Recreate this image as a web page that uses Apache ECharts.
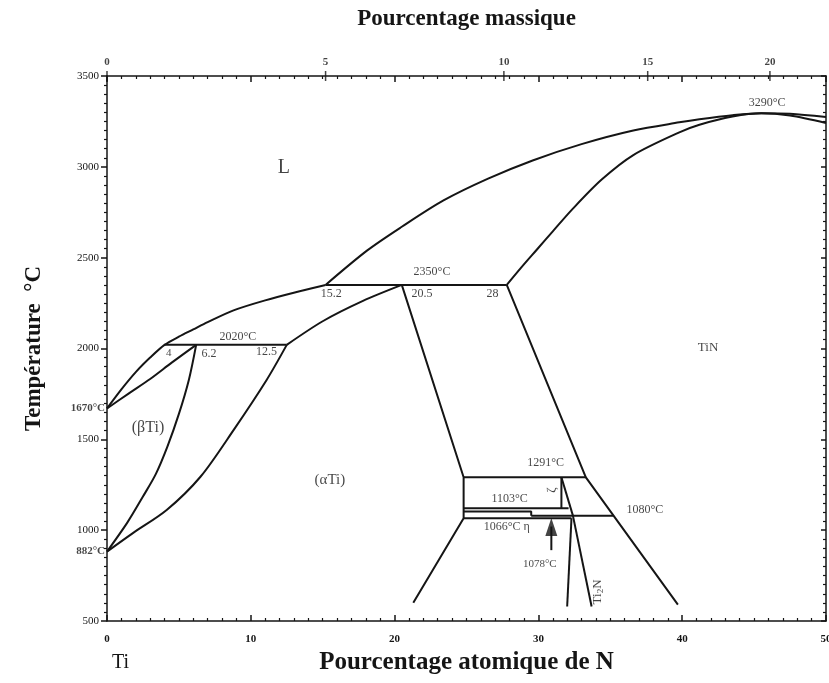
<!DOCTYPE html>
<html><head><meta charset="utf-8">
<script src="https://cdn.jsdelivr.net/npm/echarts@6/dist/echarts.min.js"></script>
<style>html,body{margin:0;padding:0;background:#fff}#c{width:829px;height:683px}</style>
</head><body><div id="c"></div>
<script>
// ---- data (x = atomic % N, y = temperature °C) ----
var yTicks = [500, 1000, 1500, 2000, 2500, 3000, 3500];
var xTicksAt = [0, 10, 20, 30, 40, 50];
var wtLabels = ['0', '5', '10', '15', '20'];
var wtAtPos = [0, 15.2, 27.6, 37.6, 46.1];

var liquidusLeft = [[0,1670],[1,1775],[2,1870],[3,1950],[4,2020],[5,2065],[6,2105],[7,2145],[8.8,2210],[11,2265],[13.4,2315],[15.2,2350]];
var liquidusRight = [[15.2,2350],[18.1,2540],[20.5,2670],[23.4,2815],[26.5,2935],[29.6,3035],[33,3125],[36.6,3200],[39.8,3245],[41.2,3262],[43.5,3284],[45.5,3295],[47.5,3292],[50,3274]];
var solidusTiN = [[27.8,2350],[28.8,2445],[29.9,2545],[31,2645],[32.4,2770],[34.4,2930],[36.6,3065],[39.8,3190],[41.2,3232],[43.5,3277],[45.5,3295],[47.5,3282],[50,3241]];
var solidusBeta = [[0,1670],[1.5,1752],[3,1832],[4.5,1922],[6.2,2020]];
var betaTransus = [[0,882],[1.4,1040],[2.5,1185],[3.4,1310],[4.2,1460],[5.0,1640],[5.7,1830],[6.2,2020]];
var alphaTransus = [[0,882],[1.8,984],[4.15,1111],[6.5,1294],[8.8,1551],[11.1,1827],[12.5,2020]];
var alphaUpper = [[12.5,2020],[15,2150],[17.8,2262],[20.5,2350]];
var alphaRight = [[20.5,2350],[24.8,1291],[24.8,1066],[21.3,600]];
var tinBoundary = [[27.8,2350],[33.3,1291],[39.7,590]];
var iso2020 = [[4,2020],[12.5,2020]];
var iso2350 = [[15.2,2350],[27.8,2350]];
var iso1291 = [[24.8,1291],[33.3,1291]];
var iso1120 = [[24.8,1120],[32.1,1120]];
var iso1103 = [[24.8,1103],[29.5,1103],[29.5,1080]];
var iso1080 = [[29.5,1080],[35.2,1080]];
var iso1066 = [[24.8,1066],[32.3,1066]];
var zetaLeft = [[31.6,1291],[31.6,1120]];
var zetaRight = [[31.6,1291],[32.4,1080]];
var ti2nLeft = [[32.3,1066],[32.0,580]];
var ti2nRight = [[32.4,1080],[33.7,580]];
var arrowStem = [[30.9,890],[30.9,1020]];
var arrowHead = [[30.9,1017]];

var annotText = ['L','TiN','(βTi)','(αTi)','2020°C','4','6.2','12.5','2350°C','15.2','20.5','28','3290°C','1291°C','1103°C','1066°C η','1080°C','ζ','1078°C','Ti{s|2}N'];
var annotX =    [12.3, 41.8, 2.85, 15.5, 9.1, 4.3, 7.1, 11.1, 22.6, 15.6, 21.9, 26.8, 45.9, 30.5, 28.0, 27.8, 37.4, 30.9, 30.1, 34.1];
var annotY =    [2994, 2003, 1562, 1276, 2063, 1975, 1970, 1981, 2421, 2300, 2300, 2300, 3350, 1370, 1170, 1017, 1112, 1221, 814, 660];
var annotSize = [20, 13, 16, 15, 12, 11, 12, 12, 12, 12, 12, 12, 12, 12, 12, 12, 12, 13, 11, 13];
var annotRot =  [0,0,0,0,0,0,0,0,0,0,0,0,0,0,0,0,0,90,0,90];

var sideText = ['1670°C', '882°C'];
var sideY = [1670, 882];

var chart = echarts.init(document.getElementById('c'));
var FONT = '"Liberation Serif", "DejaVu Serif", serif';
var INK = '#151515';

function line(data, smooth) {
  return { type: 'line', data: data, smooth: smooth ? 0.3 : false, symbol: 'none',
    lineStyle: { color: INK, width: 2 }, clip: false, silent: true, z: 3 };
}

var curves = [
  [liquidusLeft, true], [liquidusRight, true], [solidusTiN, true], [solidusBeta, true],
  [betaTransus, true], [alphaTransus, true], [alphaUpper, true], [alphaRight, false],
  [tinBoundary, false], [iso2020, false], [iso2350, false], [iso1291, false], [iso1120, false],
  [iso1103, false], [iso1080, false], [iso1066, false], [zetaLeft, false], [zetaRight, false],
  [ti2nLeft, false], [ti2nRight, false], [arrowStem, false]
];
var series = curves.map(function (c) { return line(c[0], c[1]); });

series.push({ type: 'scatter', data: arrowHead, symbol: 'triangle', symbolSize: [12, 18],
  itemStyle: { color: INK }, clip: false, silent: true, z: 4 });

series.push({ type: 'scatter', clip: false, silent: true, symbolSize: 0, z: 5,
  data: annotText.map(function (t, i) {
    return { value: [annotX[i], annotY[i]], label: { show: true, position: 'inside', formatter: t,
      fontSize: annotSize[i], rotate: annotRot[i], fontFamily: FONT, color: INK,
      rich: { s: { fontSize: 9, fontFamily: FONT, color: INK, verticalAlign: 'bottom', padding: [6,0,0,0] } } } };
  })
});

series.push({ type: 'scatter', clip: false, silent: true, symbolSize: 0, z: 5,
  data: sideText.map(function (t, i) {
    return { value: [0, sideY[i]], label: { show: true, position: 'left', distance: 2, formatter: t,
      fontSize: 11, fontWeight: 'bold', fontFamily: FONT, color: INK } };
  })
});

// weight-percent ticks on top axis
series.push({ type: 'scatter', clip: false, silent: true, symbol: 'rect', symbolSize: [1.5, 10], z: 5,
  itemStyle: { color: INK },
  data: wtLabels.map(function (t, i) {
    return { value: [wtAtPos[i], 3500], label: { show: true, position: 'top', distance: 3, formatter: t,
      fontSize: 11, fontWeight: 'bold', fontFamily: FONT, color: INK } };
  })
});

var axisLineStyle = { color: INK, width: 1.5 };

chart.setOption({
  backgroundColor: '#fff',
  animation: false,
  grid: { left: 107, right: 3, top: 76, bottom: 62, containLabel: false, outerBoundsMode: 'none' },
  xAxis: [
    { type: 'value', position: 'bottom', min: 0, max: 50, interval: 10,
      axisLine: { lineStyle: axisLineStyle, onZero: false },
      axisTick: { inside: true, length: 6, lineStyle: { color: INK, width: 1.5 } },
      minorTick: { show: true, splitNumber: 10, length: 3, lineStyle: { color: INK, width: 1.2 } },
      splitLine: { show: false },
      axisLabel: { fontSize: 11, fontWeight: 'bold', fontFamily: FONT, color: INK, margin: 13,
        formatter: function (v) { return xTicksAt.indexOf(v) >= 0 ? String(v) : ''; } },
      name: 'Pourcentage atomique de N', nameLocation: 'middle', nameGap: 28,
      nameTextStyle: { fontSize: 25, fontWeight: 'bold', fontFamily: FONT, color: INK } },
    { type: 'value', position: 'top', min: 0, max: 50, interval: 10,
      axisLine: { lineStyle: axisLineStyle, onZero: false },
      axisTick: { inside: true, length: 6, lineStyle: { color: INK, width: 1.5 } },
      minorTick: { show: true, splitNumber: 10, length: 3, lineStyle: { color: INK, width: 1.2 } },
      splitLine: { show: false }, axisLabel: { show: false },
      name: 'Pourcentage massique', nameLocation: 'middle', nameGap: 45,
      nameTextStyle: { fontSize: 23, fontWeight: 'bold', fontFamily: FONT, color: INK } }
  ],
  yAxis: [
    { type: 'value', position: 'left', min: 500, max: 3500, interval: 500,
      axisLine: { lineStyle: axisLineStyle, onZero: false },
      axisTick: { inside: false, length: 6, lineStyle: { color: INK, width: 1.5 } },
      minorTick: { show: true, splitNumber: 10, length: 3, lineStyle: { color: INK, width: 1.2 } },
      splitLine: { show: false },
      axisLabel: { fontSize: 11, fontFamily: FONT, color: INK, margin: 8,
        formatter: function (v) { return yTicks.indexOf(v) >= 0 ? String(v) : ''; } },
      name: 'Température  °C', nameLocation: 'middle', nameGap: 61, nameRotate: 90,
      nameTextStyle: { fontSize: 23, fontWeight: 'bold', fontFamily: FONT, color: INK } },
    { type: 'value', position: 'right', min: 500, max: 3500, interval: 500,
      axisLine: { lineStyle: axisLineStyle, onZero: false },
      axisTick: { inside: true, length: 5, lineStyle: { color: INK, width: 1.5 } },
      minorTick: { show: true, splitNumber: 10, length: 3, lineStyle: { color: INK, width: 1.2 } },
      splitLine: { show: false }, axisLabel: { show: false } }
  ],
  graphic: [{ type: 'text', left: 112, top: 653,
    style: { text: 'Ti', fontSize: 20, fontFamily: FONT, fill: INK } }],
  series: series
});
</script></body></html>
